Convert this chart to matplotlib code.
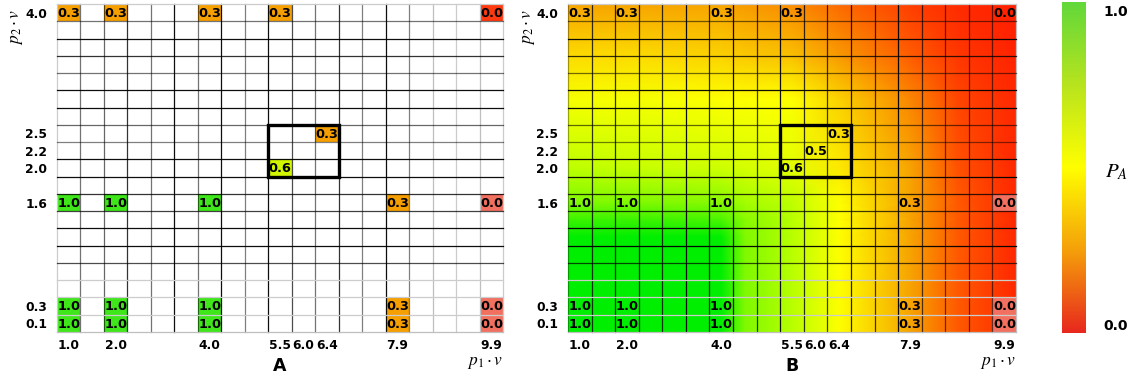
import numpy as np
import matplotlib
matplotlib.use('Agg')
import matplotlib.pyplot as plt
from matplotlib.colors import LinearSegmentedColormap
from matplotlib.patches import Rectangle

plt.rcParams['mathtext.fontset'] = 'stix'
plt.rcParams['font.family'] = ['DejaVu Sans']

N_COLS, N_ROWS = 19, 19

x_tick_cols = [0, 2, 6, 9, 10, 11, 14, 18]
x_tick_text = ['1.0', '2.0', '4.0', '5.5', '6.0', '6.4', '7.9', '9.9']
y_tick_rows = [0, 7, 8, 9, 11, 17, 18]
y_tick_text = ['4.0', '2.5', '2.2', '2.0', '1.6', '0.3', '0.1']

# labelled cells, rows counted from the top
cell_rows = [0, 0, 0, 0, 0, 7, 8, 9, 11, 11, 11, 11, 11,
             17, 17, 17, 17, 17, 18, 18, 18, 18, 18]
cell_cols = [0, 2, 6, 9, 18, 11, 10, 9, 0, 2, 6, 14, 18,
             0, 2, 6, 14, 18, 0, 2, 6, 14, 18]
cell_vals = [0.3, 0.3, 0.3, 0.3, 0.0, 0.3, 0.5, 0.6, 1.0, 1.0, 1.0, 0.3, 0.0,
             1.0, 1.0, 1.0, 0.3, 0.0, 1.0, 1.0, 1.0, 0.3, 0.0]
cell_in_a = [True] * 6 + [False] + [True] * 16
cell_pale = [False] * 12 + [True] + [False] * 4 + [True] + [False] * 4 + [True]

# estimated P_A surface (panel B), on a coarse grid in cell units
field_x = [0, 3, 6.5, 7.5, 9.5, 11.5, 14.5, 16.5, 19]
field_y = [0, 3, 5.5, 9.5, 11.5, 12.5, 13.5, 19]
field_pa = [
    [0.30, 0.30, 0.30, 0.28, 0.25, 0.18, 0.08, 0.03, 0.00],
    [0.42, 0.42, 0.40, 0.38, 0.36, 0.28, 0.16, 0.06, 0.01],
    [0.52, 0.52, 0.50, 0.50, 0.50, 0.40, 0.24, 0.10, 0.02],
    [0.68, 0.66, 0.64, 0.62, 0.58, 0.45, 0.30, 0.13, 0.02],
    [0.82, 0.82, 0.80, 0.74, 0.68, 0.50, 0.30, 0.15, 0.02],
    [0.92, 0.92, 0.90, 0.80, 0.70, 0.50, 0.30, 0.15, 0.02],
    [1.00, 1.00, 1.00, 0.82, 0.70, 0.50, 0.30, 0.15, 0.02],
    [1.00, 1.00, 1.00, 0.82, 0.70, 0.50, 0.30, 0.15, 0.02],
]

# grid line strength for each boundary (left->right, top->bottom)
v_line_a = [0.2, 0.55, 0.6, 0.8, 0.55, 0.95, 0.55, 0.95, 0.5, 0.95,
            0.7, 0.55, 0.8, 0.5, 0.95, 0.5, 0.25, 0.2, 0.25, 0.2]
v_line_b = [0.35, 0.8, 0.8, 0.85, 0.8, 0.95, 0.8, 0.95, 0.75, 0.95,
            0.8, 0.75, 0.85, 0.75, 0.95, 0.7, 0.6, 0.6, 0.6, 0.25]
h_line = [0.2, 0.55, 0.95, 0.8, 0.55, 0.95, 0.95, 0.6, 0.5, 0.95,
          0.95, 0.8, 0.75, 0.95, 0.95, 0.7, 0.2, 0.2, 0.2, 0.25]

field_cmap = LinearSegmentedColormap.from_list('pa', [
    (0.0, '#ff2000'), (0.15, '#ff5a00'), (0.3, '#f7a500'), (0.5, '#ffff00'),
    (0.7, '#b8ff00'), (0.85, '#70f800'), (1.0, '#00ee00')])
fill_cmap = LinearSegmentedColormap.from_list('fill', [
    (0.0, '#ff3a10'), (0.3, '#f5a000'), (0.6, '#d2f500'), (1.0, '#3ee61a')])
cbar_cmap = LinearSegmentedColormap.from_list('cbar', [
    (0.0, '#e8281e'), (0.25, '#f5a00a'), (0.5, '#ffff00'),
    (0.75, '#b8e41e'), (1.0, '#62d83a')])
PALE = '#f2705f'

W, H = 1132, 379
fig = plt.figure(figsize=(W / 100, H / 100), dpi=100)


def line_color(s):
    if s < 0.3:
        g = 1 - s
        return (g, g, g, 1)
    return (0, 0, 0, s)


def draw_panel(ax, letter, with_field, v_line):
    ax.set_xlim(0, N_COLS)
    ax.set_ylim(N_ROWS, 0)
    for sp in ax.spines.values():
        sp.set_visible(False)

    if with_field:
        X, Y = np.meshgrid(field_x, field_y)
        ax.pcolormesh(X, Y, np.array(field_pa), shading='gouraud',
                      cmap=field_cmap, vmin=0, vmax=1)

    for r, c, v, in_a, pale in zip(cell_rows, cell_cols, cell_vals,
                                   cell_in_a, cell_pale):
        if not with_field and not in_a:
            continue
        if pale:
            ax.add_patch(Rectangle((c, r), 1, 1, color=PALE, lw=0))
        elif not with_field:
            ax.add_patch(Rectangle((c, r), 1, 1, color=fill_cmap(v), lw=0))
        ax.text(c + 0.02, r + 0.55, f'{v:.1f}', ha='left', va='center',
                fontsize=9.3, fontweight='bold', color='black', zorder=5)

    for k in range(N_COLS + 1):
        ax.plot([k, k], [0, N_ROWS], color=line_color(v_line[k]), lw=0.9,
                clip_on=False, zorder=3)
    for k in range(N_ROWS + 1):
        ax.plot([0, N_COLS], [k, k], color=line_color(h_line[k]), lw=0.9,
                clip_on=False, zorder=3)

    ax.add_patch(Rectangle((9, 7), 3, 3, fill=False, ec='black', lw=2.4,
                           zorder=6))

    ax.set_xticks([c + 0.5 for c in x_tick_cols])
    ax.set_xticklabels(x_tick_text, fontsize=8.8, fontweight='bold')
    ax.set_yticks([r + 0.5 for r in y_tick_rows])
    ax.set_yticklabels(y_tick_text, fontsize=8.8, fontweight='bold')
    ax.tick_params(length=0)
    ax.tick_params(axis='x', pad=5)
    ax.tick_params(axis='y', pad=7)

    ax.text(0.5, -0.104, letter, transform=ax.transAxes, ha='center',
            va='center', fontsize=12.5, fontweight='bold')
    ax.text(1.0, -0.091, r'$p_1\cdot v$', transform=ax.transAxes,
            ha='right', va='center', fontsize=12.5)


bottom = 1 - 332 / H
height = 328 / H
axA = fig.add_axes([57 / W, bottom, 446 / W, height])
axB = fig.add_axes([568 / W, bottom, 448 / W, height])
draw_panel(axA, 'A', False, v_line_a)
draw_panel(axB, 'B', True, v_line_b)

for x in (16, 528):
    fig.text(x / W, 1 - 9 / H, r'$p_2\cdot v$', rotation=90, ha='center',
             va='top', fontsize=12.5)

# colour scale
cax = fig.add_axes([1062 / W, 1 - 333 / H, 24 / W, 331 / H])
cax.imshow(np.linspace(1, 0, 256)[:, None], aspect='auto', cmap=cbar_cmap,
           extent=[0, 1, 0, 1])
cax.axis('off')
fig.text(1103 / W, 1 - 12 / H, '1.0', ha='left', va='center',
         fontsize=10, fontweight='bold')
fig.text(1103 / W, 1 - 326 / H, '0.0', ha='left', va='center',
         fontsize=10, fontweight='bold')
fig.text(1105 / W, 1 - 172 / H, r'$P_A$', ha='left', va='center',
         fontsize=15)

fig.savefig('out.png', dpi=100)
plt.close(fig)
